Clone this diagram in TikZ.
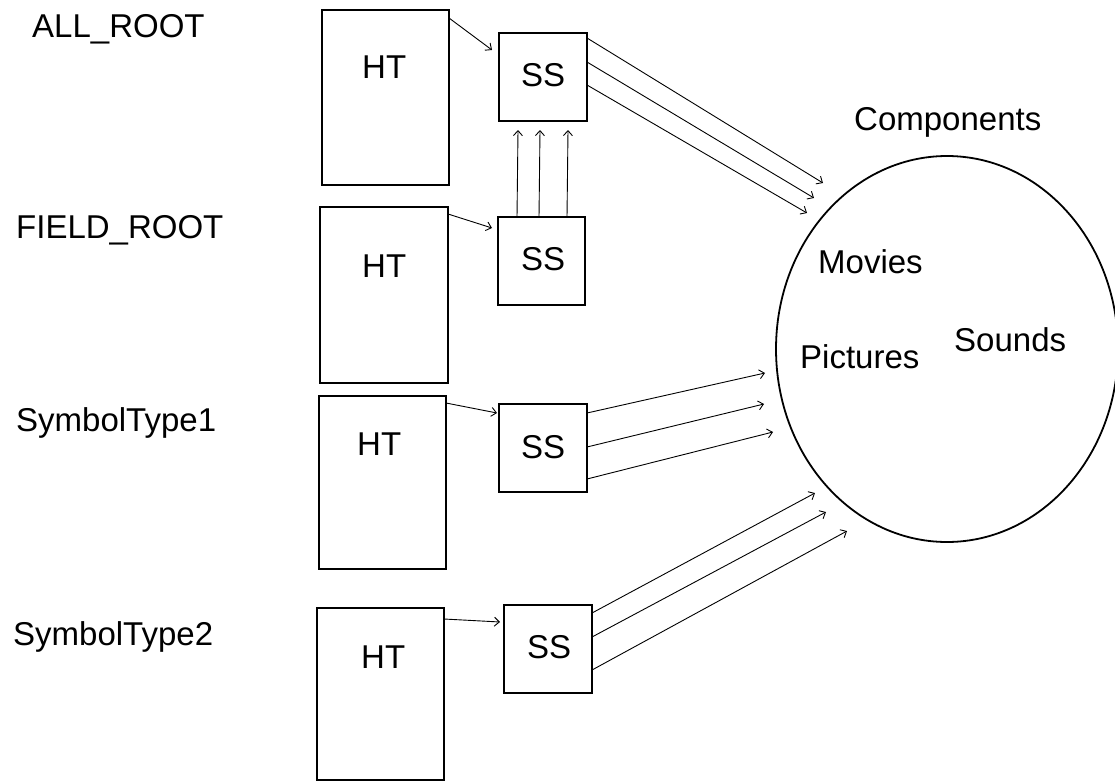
\documentclass[tikz,border=0pt]{standalone}
\usepackage{fontspec}
\setmainfont{Liberation Sans}
\usetikzlibrary{arrows.meta,shapes.geometric}
\begin{document}
\begin{tikzpicture}[x=1pt,y=-1pt,
  box/.style={draw,line width=1.8pt,inner sep=0pt,outer sep=0pt},
  lbl/.style={inner sep=0pt,anchor=base west,font=\fontsize{33pt}{39pt}\selectfont},
  arr/.style={line width=0.9pt,-{Straight Barb[length=5pt,width=9pt]}}]
\useasboundingbox (0,0) rectangle (1115,781);
% boxes
\node[box,minimum width=127pt,minimum height=175pt] (ht1) at (385.5,97.5) {};
\node[box,minimum width=128pt,minimum height=176pt] (ht2) at (384,295) {};
\node[box,minimum width=127pt,minimum height=173pt] (ht3) at (382.5,482.5) {};
\node[box,minimum width=127pt,minimum height=172pt] (ht4) at (380.5,694) {};
\node[box,minimum width=88pt,minimum height=88pt] (ss1) at (543,77) {};
\node[box,minimum width=87pt,minimum height=88pt] (ss2) at (541.5,261) {};
\node[box,minimum width=88pt,minimum height=88pt] (ss3) at (543,448) {};
\node[box,minimum width=88pt,minimum height=88pt] (ss4) at (548,649) {};
\node[draw,ellipse,line width=1.8pt,inner sep=0pt,minimum width=342pt,minimum height=386pt] (comp) at (947,349) {};
% labels
\node[lbl] (l1) at (32,38) {ALL\_ROOT};
\node[lbl] (l2) at (16,238) {FIELD\_ROOT};
\node[lbl] (l3) at (16,431) {SymbolType1};
\node[lbl] (l4) at (13,645) {SymbolType2};
\node[lbl] (lc) at (854,131) {Components};
\node[lbl] (lm) at (818,273) {Movies};
\node[lbl] (lp) at (800,368) {Pictures};
\node[lbl] (ls) at (954,351) {Sounds};
\node[lbl] (t1) at (362,79) {HT};
\node[lbl] (t2) at (362,277) {HT};
\node[lbl] (t3) at (357,455) {HT};
\node[lbl] (t4) at (361,668) {HT};
\node[lbl] (s1) at (521,87) {SS};
\node[lbl] (s2) at (521,270) {SS};
\node[lbl] (s3) at (521,458) {SS};
\node[lbl] (s4) at (527,658) {SS};
% free ends near the components circle
\coordinate (c11) at (823,183);
\coordinate (c12) at (814,198);
\coordinate (c13) at (807,213);
\coordinate (c31) at (765,373);
\coordinate (c32) at (764,404);
\coordinate (c33) at (773,432);
\coordinate (c41) at (815,493);
\coordinate (c42) at (826,512);
\coordinate (c43) at (847,531);
% HT -> SS
\draw[arr] ([yshift=-8pt]ht1.north east) -- ([xshift=-7pt,yshift=-17pt]ss1.north west);
\draw[arr] ([yshift=-7pt]ht2.north east) -- ([xshift=-6pt,yshift=-11pt]ss2.north west);
\draw[arr] ([yshift=-7pt]ht3.north east) -- ([xshift=-2pt,yshift=-9pt]ss3.north west);
\draw[arr] ([yshift=-11pt]ht4.north east) -- ([xshift=-4pt,yshift=-17pt]ss4.north west);
% SS2 -> SS1
\draw[arr] ([xshift=19pt]ss2.north west) -- ([xshift=19pt,yshift=-9pt]ss1.south west);
\draw[arr] ([xshift=41pt]ss2.north west) -- ([xshift=41pt,yshift=-9pt]ss1.south west);
\draw[arr] ([xshift=69pt]ss2.north west) -- ([xshift=69pt,yshift=-9pt]ss1.south west);
% SS -> components
\draw[arr] ([yshift=-5pt]ss1.north east) -- (c11);
\draw[arr] ([yshift=-29pt]ss1.north east) -- (c12);
\draw[arr] ([yshift=-52pt]ss1.north east) -- (c13);
\draw[arr] ([yshift=-9pt]ss3.north east) -- (c31);
\draw[arr] ([yshift=-43pt]ss3.north east) -- (c32);
\draw[arr] ([yshift=-75pt]ss3.north east) -- (c33);
\draw[arr] ([yshift=-8pt]ss4.north east) -- (c41);
\draw[arr] ([yshift=-32pt]ss4.north east) -- (c42);
\draw[arr] ([yshift=-65pt]ss4.north east) -- (c43);
\end{tikzpicture}
\end{document}
